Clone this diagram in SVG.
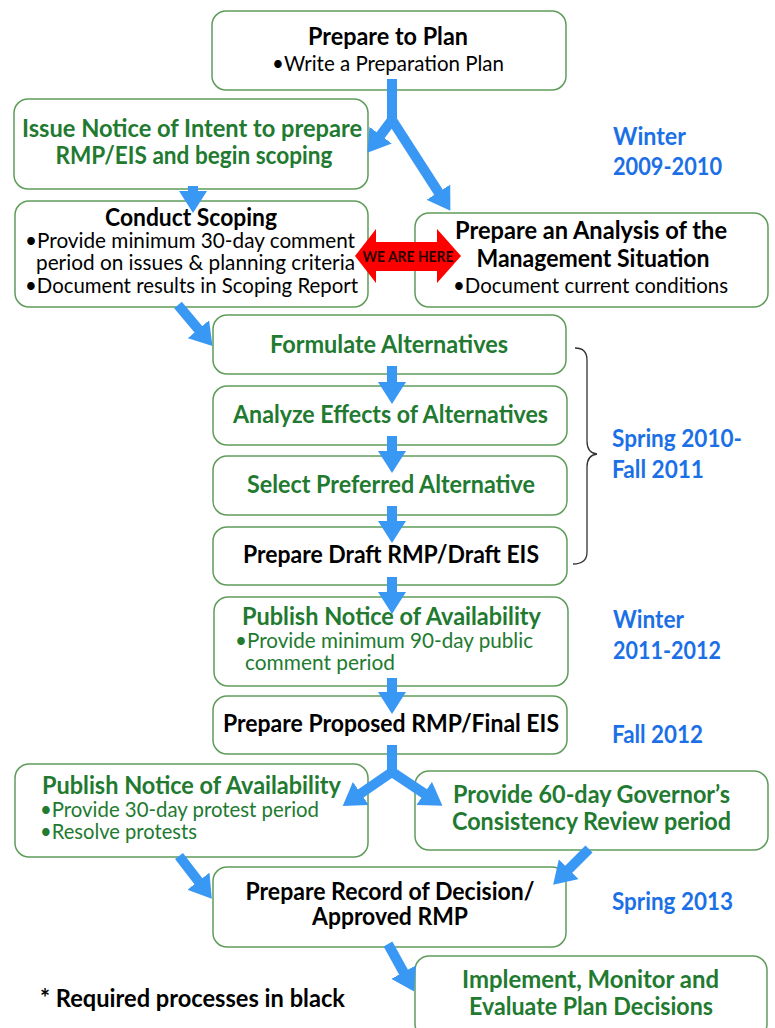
<svg xmlns="http://www.w3.org/2000/svg" width="775" height="1028" viewBox="0 0 775 1028">
<defs>
<style>
.box{fill:#ffffff;stroke:#5f9c5a;stroke-width:1.5}
.t{font-family:Lato,"Liberation Sans",sans-serif}
.b{font-weight:bold;font-size:24px}
.r{font-weight:normal;font-size:21.5px}
.k{fill:#000000}
.g{fill:#217a30}
.bl{fill:#1c70e6;font-family:Lato,"Liberation Sans",sans-serif;font-weight:bold;font-size:24.5px}
.m{text-anchor:middle}
.c{stroke:#3a98f5;stroke-width:10;fill:none}
.ch{stroke:#3a98f5;stroke-width:10;fill:none;marker-end:url(#ah)}
</style>
<marker id="ah" markerUnits="userSpaceOnUse" markerWidth="22" markerHeight="28" viewBox="0 0 22 28" refX="1" refY="14" orient="auto">
<path d="M0,0 L22,14 L0,28 Z" fill="#3a98f5"/>
</marker>
</defs>
<rect width="775" height="1028" fill="#ffffff"/>

<g id="n1">
<rect class="box" x="212" y="11" width="354" height="79" rx="14"/>
<text class="t b k m" x="388" y="45" textLength="160" lengthAdjust="spacingAndGlyphs">Prepare to Plan</text>
<text class="t r k m" x="388" y="71" textLength="232" lengthAdjust="spacingAndGlyphs">•Write a Preparation Plan</text>
</g>

<g id="n2">
<rect class="box" x="14" y="99" width="354" height="90" rx="14"/>
<text class="t b g m" x="192" y="137" textLength="340" lengthAdjust="spacingAndGlyphs">Issue Notice of Intent to prepare</text>
<text class="t b g m" x="194" y="164" textLength="277" lengthAdjust="spacingAndGlyphs">RMP/EIS and begin scoping</text>
</g>

<g id="n3">
<rect class="box" x="15" y="201" width="353" height="106" rx="14"/>
<text class="t b k m" x="191" y="226" textLength="172" lengthAdjust="spacingAndGlyphs">Conduct Scoping</text>
<text class="t r k" x="25" y="248" textLength="330" lengthAdjust="spacingAndGlyphs">•Provide minimum 30-day comment</text>
<text class="t r k" x="36" y="270" textLength="319" lengthAdjust="spacingAndGlyphs">period on issues &amp; planning criteria</text>
<text class="t r k" x="25" y="293" textLength="333" lengthAdjust="spacingAndGlyphs">•Document results in Scoping Report</text>
</g>

<g id="n4">
<rect class="box" x="415" y="213" width="353" height="94" rx="14"/>
<text class="t b k m" x="591" y="239" textLength="272" lengthAdjust="spacingAndGlyphs">Prepare an Analysis of the</text>
<text class="t b k m" x="593" y="267" textLength="233" lengthAdjust="spacingAndGlyphs">Management Situation</text>
<text class="t r k" x="453" y="293" textLength="275" lengthAdjust="spacingAndGlyphs">•Document current conditions</text>
</g>

<g id="n5">
<rect class="box" x="213" y="315" width="353" height="59" rx="14"/>
<text class="t b g m" x="389" y="353" textLength="238" lengthAdjust="spacingAndGlyphs">Formulate Alternatives</text>
</g>

<g id="n6">
<rect class="box" x="213" y="386" width="354" height="59" rx="14"/>
<text class="t b g m" x="390.5" y="423" textLength="315" lengthAdjust="spacingAndGlyphs">Analyze Effects of Alternatives</text>
</g>

<g id="n7">
<rect class="box" x="213" y="456" width="354" height="59" rx="14"/>
<text class="t b g m" x="391" y="493" textLength="288" lengthAdjust="spacingAndGlyphs">Select Preferred Alternative</text>
</g>

<g id="n8">
<rect class="box" x="213" y="527" width="354" height="58" rx="14"/>
<text class="t b k m" x="391" y="563" textLength="296" lengthAdjust="spacingAndGlyphs">Prepare Draft RMP/Draft EIS</text>
</g>

<g id="n9">
<rect class="box" x="214" y="597" width="354" height="89" rx="14"/>
<text class="t b g m" x="391.5" y="625" textLength="299" lengthAdjust="spacingAndGlyphs">Publish Notice of Availability</text>
<text class="t r g" x="235" y="648" textLength="298" lengthAdjust="spacingAndGlyphs">•Provide minimum 90-day public</text>
<text class="t r g" x="245" y="670" textLength="150" lengthAdjust="spacingAndGlyphs">comment period</text>
</g>

<g id="n10">
<rect class="box" x="213" y="696" width="354" height="58" rx="14"/>
<text class="t b k m" x="391" y="732" textLength="336" lengthAdjust="spacingAndGlyphs">Prepare Proposed RMP/Final EIS</text>
</g>

<g id="n11">
<rect class="box" x="15" y="764" width="353" height="93" rx="14"/>
<text class="t b g m" x="191.5" y="794" textLength="299" lengthAdjust="spacingAndGlyphs">Publish Notice of Availability</text>
<text class="t r g" x="40" y="817" textLength="279" lengthAdjust="spacingAndGlyphs">•Provide 30-day protest period</text>
<text class="t r g" x="40" y="839" textLength="157" lengthAdjust="spacingAndGlyphs">•Resolve protests</text>
</g>

<g id="n12">
<rect class="box" x="415" y="771" width="353" height="79" rx="14"/>
<text class="t b g m" x="591.5" y="803" textLength="277" lengthAdjust="spacingAndGlyphs">Provide 60-day Governor’s</text>
<text class="t b g m" x="591.5" y="830" textLength="279" lengthAdjust="spacingAndGlyphs">Consistency Review period</text>
</g>

<g id="n13">
<rect class="box" x="213" y="867" width="353" height="80" rx="14"/>
<text class="t b k m" x="390" y="900" textLength="289" lengthAdjust="spacingAndGlyphs">Prepare Record of Decision/</text>
<text class="t b k m" x="390" y="925" textLength="156" lengthAdjust="spacingAndGlyphs">Approved RMP</text>
</g>

<g id="n14">
<rect class="box" x="415" y="956" width="352" height="82" rx="14"/>
<text class="t b g m" x="590.5" y="988" textLength="257" lengthAdjust="spacingAndGlyphs">Implement, Monitor and</text>
<text class="t b g m" x="591" y="1015" textLength="244" lengthAdjust="spacingAndGlyphs">Evaluate Plan Decisions</text>
</g>

<g id="connectors">
<line class="c" x1="392" y1="79" x2="392" y2="124"/>
<line class="ch" x1="392" y1="120" x2="380" y2="136"/>
<line class="ch" x1="392" y1="120" x2="439" y2="193"/>
<line class="ch" x1="193" y1="186" x2="193" y2="192"/>
<line class="ch" x1="178" y1="305" x2="199" y2="330"/>
<line class="ch" x1="392" y1="366" x2="392" y2="383"/>
<line class="ch" x1="392" y1="436" x2="392" y2="452"/>
<line class="ch" x1="392" y1="506" x2="392" y2="522"/>
<line class="ch" x1="392" y1="577" x2="392" y2="593"/>
<line class="ch" x1="392" y1="678" x2="392" y2="693"/>
<line class="c" x1="392" y1="745" x2="392" y2="776"/>
<line class="ch" x1="392" y1="772" x2="360" y2="794"/>
<line class="ch" x1="392" y1="772" x2="425" y2="794"/>
<line class="ch" x1="179" y1="856" x2="199" y2="882"/>
<line class="ch" x1="589" y1="849" x2="568" y2="870"/>
<line class="ch" x1="388" y1="944" x2="404" y2="973"/>
<path d="M575,348 Q587,348 587,360 L587,441 Q587,453 597,454 Q587,455 587,467 L587,552 Q587,564 573,564" fill="none" stroke="#333333" stroke-width="1.3"/>
</g>

<g id="here">
<polygon points="355,256 376,229 376,242 437,242 437,229 461,256 437,283 437,271 376,271 376,283" fill="#ff0000"/>
<text class="t m" x="408" y="262" font-size="15" font-weight="bold" fill="#2a0000" textLength="91" lengthAdjust="spacingAndGlyphs">WE ARE HERE</text>
</g>

<g id="labels">
<text class="bl" x="613" y="145" textLength="73" lengthAdjust="spacingAndGlyphs">Winter</text>
<text class="bl" x="613" y="175" textLength="109" lengthAdjust="spacingAndGlyphs">2009-2010</text>
<text class="bl" x="612" y="447" textLength="130" lengthAdjust="spacingAndGlyphs">Spring 2010-</text>
<text class="bl" x="612" y="478" textLength="92" lengthAdjust="spacingAndGlyphs">Fall 2011</text>
<text class="bl" x="613" y="628" textLength="71" lengthAdjust="spacingAndGlyphs">Winter</text>
<text class="bl" x="613" y="659" textLength="108" lengthAdjust="spacingAndGlyphs">2011-2012</text>
<text class="bl" x="612" y="743" textLength="91" lengthAdjust="spacingAndGlyphs">Fall 2012</text>
<text class="bl" x="612" y="910" textLength="121" lengthAdjust="spacingAndGlyphs">Spring 2013</text>
<text class="t b k" x="40" y="1007" textLength="305" lengthAdjust="spacingAndGlyphs">* Required processes in black</text>
</g>
</svg>
